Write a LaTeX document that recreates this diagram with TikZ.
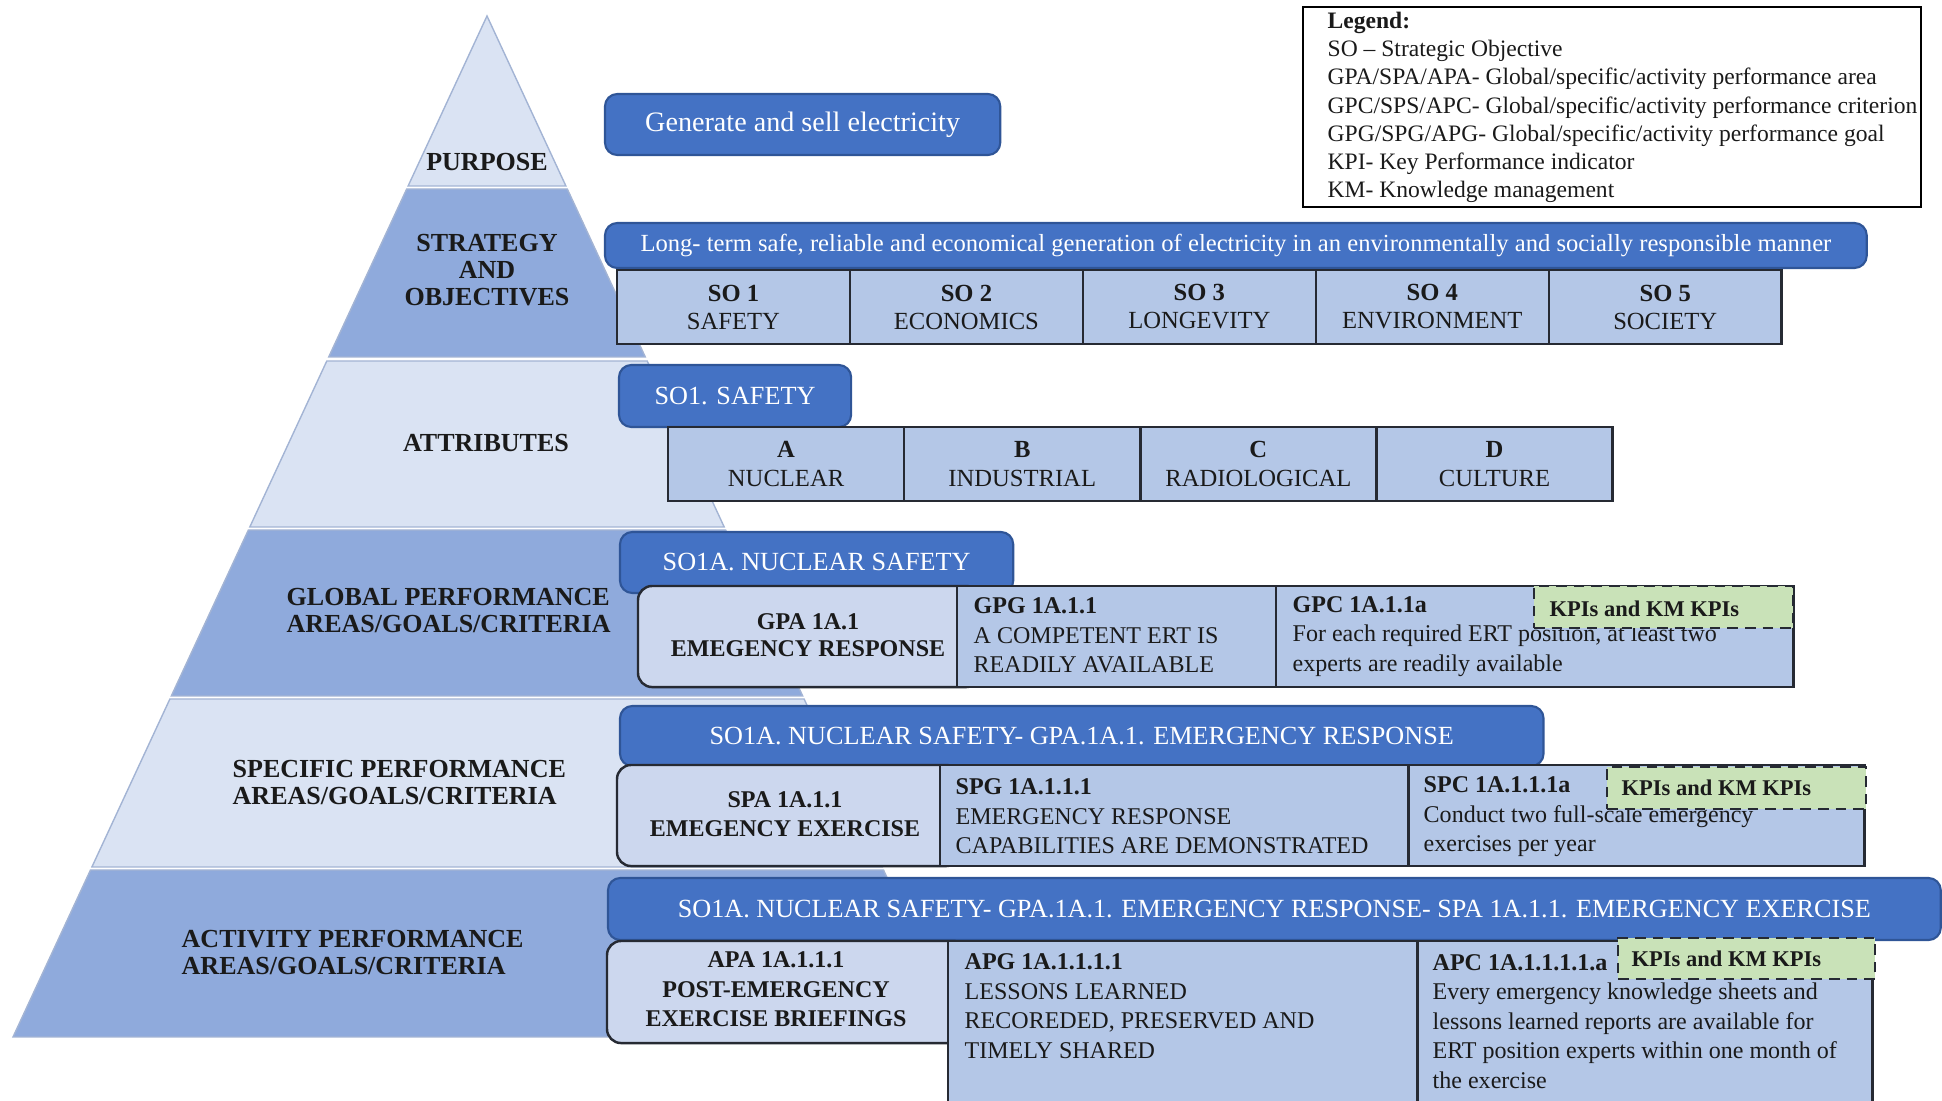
\documentclass[tikz,border=0pt]{standalone}
\usepackage{fontspec}
\setmainfont{Liberation Serif}
\usetikzlibrary{calc}
\definecolor{bandL}{HTML}{DAE3F3}
\definecolor{bandD}{HTML}{8FAADC}
\definecolor{bandE}{HTML}{A3B4D4}
\definecolor{barB}{HTML}{4472C4}
\definecolor{barE}{HTML}{2F5597}
\definecolor{cellB}{HTML}{B4C7E7}
\definecolor{cellE}{HTML}{262A33}
\definecolor{roundB}{HTML}{CCD7EE}
\definecolor{kpiG}{HTML}{C9E2B8}
\definecolor{txtC}{HTML}{1A1A1A}
\newcommand\fBand{\fontsize{7.4pt}{7.68pt}\selectfont}
\newcommand\fGen{\fontsize{8.0pt}{9pt}\selectfont}
\newcommand\fLong{\fontsize{7.0pt}{8pt}\selectfont}
\newcommand\fBar{\fontsize{7.45pt}{8pt}\selectfont}
\newcommand\fSO{\fontsize{7.0pt}{7.97pt}\selectfont}
\newcommand\fAttr{\fontsize{7.0pt}{8.5pt}\selectfont}
\newcommand\fCell{\fontsize{6.83pt}{8.39pt}\selectfont}
\newcommand\fKpi{\fontsize{6.4pt}{7pt}\selectfont}
\newcommand\fLeg{\fontsize{6.7pt}{8.0pt}\selectfont}
\tikzset{
  band/.style={draw=bandE, line width=0.4pt},
  bar/.style={draw=barE, fill=barB, line width=0.6pt, rounded corners=3.5pt, inner sep=0pt, outer sep=0pt, anchor=north west, text=white},
  cell/.style={draw=cellE, fill=cellB, line width=0.7pt, inner sep=0pt, outer sep=0pt, anchor=north west, text=txtC},
  rbox/.style={draw=cellE, fill=roundB, line width=0.7pt, rounded corners=4pt, inner sep=0pt, outer sep=0pt, anchor=north west},
  kpi/.style={draw=cellE, fill=kpiG, dash pattern=on 3pt off 2pt, line width=0.7pt, inner sep=0pt, outer sep=0pt, anchor=north west},
  bandtxt/.style={font=\fBand\bfseries, text=txtC, inner sep=0pt, align=center},
  ctxt/.style={font=\fCell, text=txtC, inner sep=0pt, align=left, anchor=west},
  ktxt/.style={font=\fKpi\bfseries, text=txtC, inner sep=0pt, anchor=west},
}
\begin{document}
\begin{tikzpicture}[x=0.01cm,y=-0.01cm]
\useasboundingbox (0,0) rectangle (1942,1101);
\clip (0,0) rectangle (1942,1101);
% pyramid bands
\filldraw[band, fill=bandL] (487,16) -- (565.9,186) -- (408.1,186) -- cycle;
\filldraw[band, fill=bandD] (406.7,189) -- (567.3,189) -- (645.3,357) -- (328.7,357) -- cycle;
\filldraw[band, fill=bandL] (326.8,361) -- (647.2,361) -- (724.2,527) -- (249.8,527) -- cycle;
\filldraw[band, fill=bandD] (248.4,530) -- (725.6,530) -- (802.7,696) -- (171.3,696) -- cycle;
\filldraw[band, fill=bandL] (169.9,699) -- (804.1,699) -- (882.1,867) -- (91.9,867) -- cycle;
\filldraw[band, fill=bandD] (90.5,870) -- (883.5,870) -- (961,1037) -- (13,1037) -- cycle;
% band labels
\node[bandtxt] (lPurpose) at (487,162) {PURPOSE};
\node[bandtxt] (lStrat) at (487,270) {STRATEGY\\AND\\OBJECTIVES};
\node[bandtxt] (lAttr) at (486,443) {ATTRIBUTES};
\node[bandtxt, align=left, anchor=west] (lGlob) at (286,610.5) {GLOBAL PERFORMANCE\\AREAS/GOALS/CRITERIA};
\node[bandtxt, align=left, anchor=west] (lSpec) at (232,782.5) {SPECIFIC PERFORMANCE\\AREAS/GOALS/CRITERIA};
\node[bandtxt, align=left, anchor=west] (lAct) at (181,952.5) {ACTIVITY PERFORMANCE\\AREAS/GOALS/CRITERIA};
% legend
\node[draw=black, line width=0.6pt, minimum width=6.18cm, minimum height=2.0cm, anchor=north west, inner sep=0pt, outer sep=0pt] (leg) at (1303,7) {};
\node[font=\fLeg, text=txtC, inner sep=0pt, align=left, anchor=west] (legT) at (1327,107.5) {\textbf{Legend:}\\SO -- Strategic Objective\\GPA/SPA/APA- Global/specific/activity performance area\\GPC/SPS/APC- Global/specific/activity performance criterion\\GPG/SPG/APG- Global/specific/activity performance goal\\KPI- Key Performance indicator\\KM- Knowledge management};
% purpose
\node[bar, minimum width=3.95cm, minimum height=0.61cm, font=\fGen] (gen) at (605,94) {Generate and sell electricity};
% strategy
\node[bar, minimum width=12.61cm, minimum height=0.45cm, font=\fLong] (long) at (605,223) {Long- term safe, reliable and economical generation of electricity in an environmentally and socially responsible manner};
\node[cell, minimum width=2.328cm, minimum height=0.74cm, align=center, font=\fSO] (so1) at (617,270) {\textbf{SO 1}\\SAFETY};
\node[cell, minimum width=2.328cm, minimum height=0.74cm, align=center, font=\fSO] (so2) at (so1.north east) {\textbf{SO 2}\\ECONOMICS};
\node[cell, minimum width=2.328cm, minimum height=0.74cm, align=center, font=\fSO] (so3) at (so2.north east) {\textbf{SO 3}\\LONGEVITY};
\node[cell, minimum width=2.328cm, minimum height=0.74cm, align=center, font=\fSO] (so4) at (so3.north east) {\textbf{SO 4}\\ENVIRONMENT};
\node[cell, minimum width=2.328cm, minimum height=0.74cm, align=center, font=\fSO] (so5) at (so4.north east) {\textbf{SO 5}\\SOCIETY};
% attributes
\node[bar, minimum width=2.32cm, minimum height=0.62cm, font=\fBar] (saf) at (619,365) {SO1. SAFETY};
\node[cell, minimum width=2.36cm, minimum height=0.74cm, align=center, font=\fAttr] (atA) at (668,427) {\textbf{A}\\NUCLEAR};
\node[cell, minimum width=2.36cm, minimum height=0.74cm, align=center, font=\fAttr] (atB) at (atA.north east) {\textbf{B}\\INDUSTRIAL};
\node[cell, minimum width=2.36cm, minimum height=0.74cm, align=center, font=\fAttr] (atC) at (atB.north east) {\textbf{C}\\RADIOLOGICAL};
\node[cell, minimum width=2.36cm, minimum height=0.74cm, align=center, font=\fAttr] (atD) at (atC.north east) {\textbf{D}\\CULTURE};
% global
\node[bar, minimum width=3.93cm, minimum height=0.61cm, font=\fBar] (gbar) at (620,532) {SO1A. NUCLEAR SAFETY};
\node[rbox, minimum width=3.42cm, minimum height=1.01cm] (gpa) at (638,586) {};
\node[font=\fCell\fontsize{6.83pt}{7.68pt}\selectfont\bfseries, text=txtC, inner sep=0pt, align=center] (gpaT) at (808,635.5) {GPA 1A.1\\EMEGENCY RESPONSE};
\node[cell, minimum width=3.19cm, minimum height=1.01cm] (gpg) at (957,586) {};
\node[cell, minimum width=5.17cm, minimum height=1.01cm] (gpc) at (gpg.north east) {};
\node[ctxt] (gpgT) at (973,635.5) {\textbf{GPG 1A.1.1}\\A COMPETENT ERT IS\\READILY AVAILABLE};
\node[ctxt] (gpcT) at (1292,636.5) {\textbf{GPC 1A.1.1a}\\For each required ERT position, at least two\\experts are readily available};
\node[kpi, minimum width=2.59cm, minimum height=0.42cm] (kpi1) at (1534,586) {};
\node[ktxt] (kpi1T) at (1549,609) {KPIs and KM KPIs};
% specific
\node[bar, minimum width=9.23cm, minimum height=0.6cm, font=\fBar] (sbar) at (620,706) {SO1A. NUCLEAR SAFETY- GPA.1A.1. EMERGENCY RESPONSE};
\node[rbox, minimum width=3.43cm, minimum height=1.01cm] (spa) at (617,765) {};
\node[font=\fCell\fontsize{6.83pt}{8.25pt}\selectfont\bfseries, text=txtC, inner sep=0pt, align=center] (spaT) at (785,814.5) {SPA 1A.1.1\\EMEGENCY EXERCISE};
\node[cell, minimum width=4.68cm, minimum height=1.01cm] (spg) at (940,765) {};
\node[cell, minimum width=4.56cm, minimum height=1.01cm] (spc) at (spg.north east) {};
\node[ctxt] (spgT) at (955,816.5) {\textbf{SPG 1A.1.1.1}\\EMERGENCY RESPONSE\\CAPABILITIES ARE DEMONSTRATED};
\node[ctxt] (spcT) at (1423,817) {\textbf{SPC 1A.1.1.1a}\\Conduct two full-scale emergency\\exercises per year};
\node[kpi, minimum width=2.59cm, minimum height=0.42cm] (kpi2) at (1607,767) {};
\node[ktxt] (kpi2T) at (1621,788) {KPIs and KM KPIs};
% activity
\node[bar, minimum width=13.32cm, minimum height=0.62cm, font=\fBar] (abar) at (608,878) {SO1A. NUCLEAR SAFETY- GPA.1A.1. EMERGENCY RESPONSE- SPA 1A.1.1. EMERGENCY EXERCISE};
\node[rbox, minimum width=3.6cm, minimum height=1.02cm] (apa) at (607,941) {};
\node[font=\fCell\bfseries, text=txtC, inner sep=0pt, align=center] (apaT) at (776,989.5) {APA 1A.1.1.1\\POST-EMERGENCY\\EXERCISE BRIEFINGS};
\node[cell, minimum width=4.69cm, minimum height=1.7cm] (apg) at (948,941) {};
\node[cell, minimum width=4.55cm, minimum height=1.7cm] (apc) at (apg.north east) {};
\node[ctxt] (apgT) at (964,1006) {\textbf{APG 1A.1.1.1.1}\\LESSONS LEARNED\\RECOREDED, PRESERVED AND\\TIMELY SHARED};
\node[ctxt] (apcT) at (1432,1021.5) {\textbf{APC 1A.1.1.1.1.a}\\Every emergency knowledge sheets and\\lessons learned reports are available for\\ERT position experts within one month of\\the exercise};
\node[kpi, minimum width=2.57cm, minimum height=0.41cm] (kpi3) at (1618,938) {};
\node[ktxt] (kpi3T) at (1631,959) {KPIs and KM KPIs};
\end{tikzpicture}
\end{document}
